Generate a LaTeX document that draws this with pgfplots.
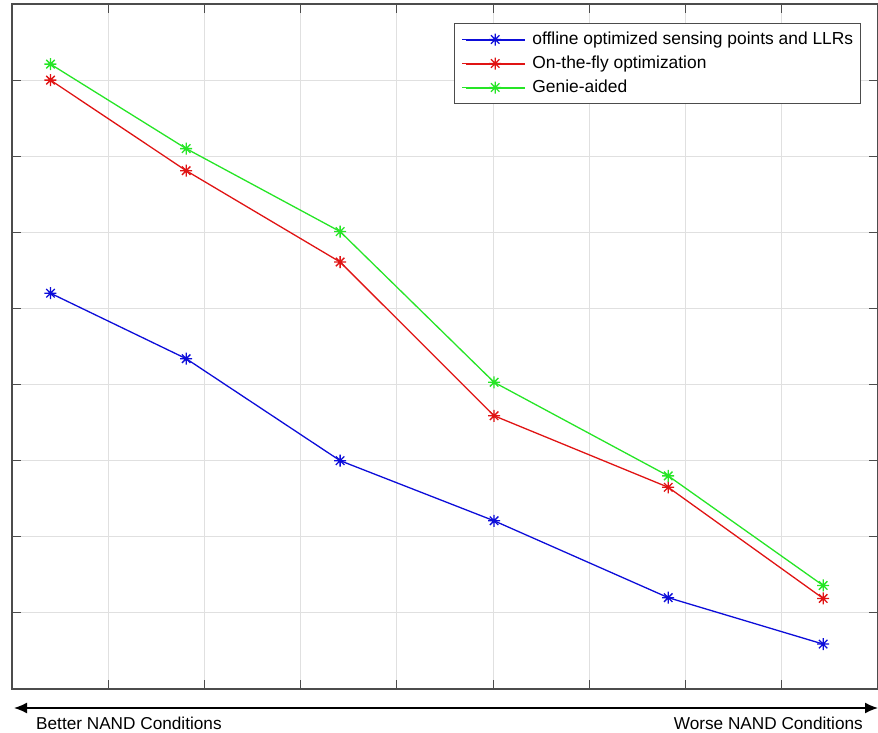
\documentclass[border=0pt]{standalone}
\usepackage{pgfplots}
\pgfplotsset{compat=1.18}
\usepackage{fontspec}
\setmainfont{Liberation Sans}
\usetikzlibrary{calc,arrows.meta}
\pgfdeclareplotmark{mstar}{%
 \pgfpathmoveto{\pgfpoint{-\pgfplotmarksize}{0pt}}\pgfpathlineto{\pgfpoint{\pgfplotmarksize}{0pt}}%
 \pgfpathmoveto{\pgfpoint{0pt}{-\pgfplotmarksize}}\pgfpathlineto{\pgfpoint{0pt}{\pgfplotmarksize}}%
 \pgfpathmoveto{\pgfpoint{-0.707\pgfplotmarksize}{-0.707\pgfplotmarksize}}\pgfpathlineto{\pgfpoint{0.707\pgfplotmarksize}{0.707\pgfplotmarksize}}%
 \pgfpathmoveto{\pgfpoint{-0.707\pgfplotmarksize}{0.707\pgfplotmarksize}}\pgfpathlineto{\pgfpoint{0.707\pgfplotmarksize}{-0.707\pgfplotmarksize}}%
 \pgfusepathqstroke}
\definecolor{mblue}{rgb}{0.05,0.05,0.85}
\definecolor{mred}{rgb}{0.88,0.08,0.08}
\definecolor{mgreen}{rgb}{0.15,0.9,0.15}
\begin{document}
\begin{tikzpicture}
\begin{axis}[
 scale only axis, width=866pt, height=685pt,
 xmin=0, xmax=9, ymin=0, ymax=9,
 xtick={0,...,9}, ytick={0,...,9},
 xticklabels={}, yticklabels={},
 grid=major, major grid style={draw=black!12, line width=0.8pt},
 tick align=inside, major tick length=9pt,
 tick style={draw=black!70, line width=1pt},
 axis line style={draw=black!70, line width=1.2pt},
 legend image code/.code={\path (-3.7pt,0pt) -- (0pt,0pt);\draw[#1,mark=none,line width=2pt] (0pt,0pt) -- (59pt,0pt);\draw[#1] plot coordinates {(29.5pt,0pt)};},
 legend cell align=left,
 legend style={at={(rel axis cs:0.9804,0.9718)}, anchor=north east, draw=black!70, line width=1pt,
   inner xsep=7.3pt, inner ysep=7.2pt, row sep=7pt, column sep=6.7pt,
   font=\fontsize{17.4}{21}\selectfont,
   nodes={inner sep=0pt, text height=13pt, text depth=4pt}},
]
\addplot[color=mblue, line width=1.3pt, mark=mstar, mark size=6pt, mark options={solid}] coordinates {(0.40,5.20) (1.81,4.34) (3.41,3.00) (5.01,2.21) (6.82,1.20) (8.43,0.59)};
\addlegendentry{offline optimized sensing points and LLRs}
\addplot[color=mred, line width=1.3pt, mark=mstar, mark size=6pt, mark options={solid}] coordinates {(0.40,8.00) (1.81,6.81) (3.41,5.61) (5.01,3.59) (6.82,2.65) (8.43,1.19)};
\addlegendentry{On-the-fly optimization}
\addplot[color=mgreen, line width=1.3pt, mark=mstar, mark size=6pt, mark options={solid}] coordinates {(0.40,8.21) (1.81,7.10) (3.41,6.01) (5.01,4.03) (6.82,2.80) (8.43,1.36)};
\addlegendentry{Genie-aided}
\end{axis}
\draw[line width=1.5pt, {Latex[length=13pt,width=11pt]}-{Latex[length=13pt,width=11pt]}] ($(current axis.south west)+(2pt,-19pt)$) -- ($(current axis.south east)+(0pt,-19pt)$);
\node[anchor=base west, inner sep=0pt, font=\fontsize{17.2}{20}\selectfont] at ($(current axis.south west)+(24pt,-41pt)$) {Better NAND Conditions};
\node[anchor=base east, inner sep=0pt, font=\fontsize{17.2}{20}\selectfont] at ($(current axis.south east)+(-15pt,-41pt)$) {Worse NAND Conditions};
\pgfresetboundingbox
\path ($(current axis.south west)+(-12pt,-44pt)$) rectangle ($(current axis.north east)+(0pt,4pt)$);
\end{tikzpicture}
\end{document}
